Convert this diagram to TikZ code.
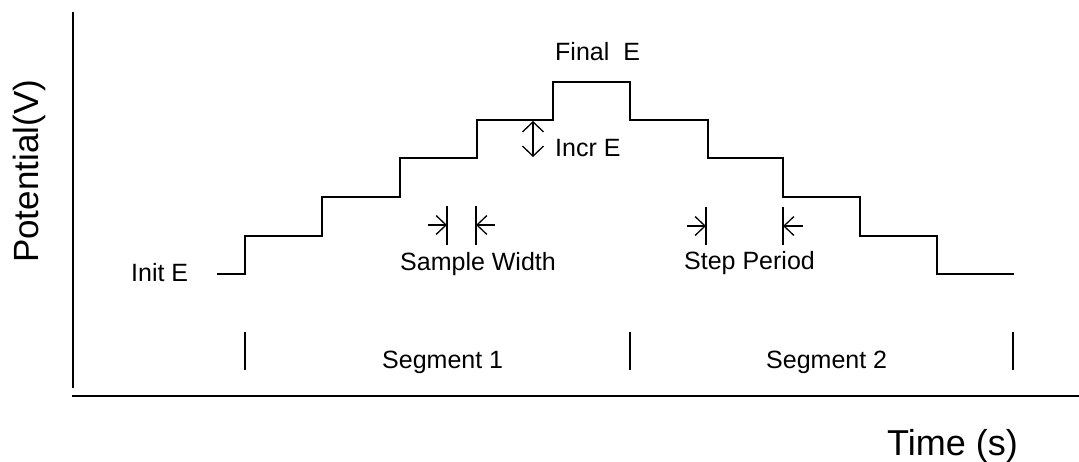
\documentclass[tikz,border=0pt]{standalone}
\usepackage{fontspec}
\setmainfont{Liberation Sans}
\usetikzlibrary{arrows.meta}
\begin{document}
\begin{tikzpicture}[x=1pt,y=-1pt,
  lbl/.style={font=\fontsize{25}{29}\selectfont, anchor=base west, inner sep=0pt},
  biglbl/.style={font=\fontsize{36}{42}\selectfont, anchor=base west, inner sep=0pt},
  axis/.style={line width=1.6pt},
  stair/.style={line width=1.7pt},
  tick/.style={line width=1.4pt},
  dim/.style={line width=1.3pt, -{Straight Barb[length=10pt,width=19pt]}},
  dbl/.style={line width=1.3pt, {Straight Barb[length=10pt,width=21pt]}-{Straight Barb[length=10pt,width=21pt]}}]
\useasboundingbox (0,0) rectangle (1079,461);
% axes
\coordinate (ytop) at (73,12);
\coordinate (ybot) at (73,388);
\coordinate (xl) at (72,396);
\coordinate (xr) at (1079,396);
\draw[axis] (ytop) -- (ybot);
\draw[axis] (xl) -- (xr);
% staircase
\draw[stair] (217,274) -- (245,274) -- (245,236) -- (322,236) -- (322,197) -- (400,197)
  -- (400,158) -- (477,158) -- (477,120) -- (553,120) -- (553,82) -- (630,82)
  -- (630,120) -- (708,120) -- (708,158) -- (783,158) -- (783,197) -- (860,197)
  -- (860,236) -- (937,236) -- (937,274) -- (1014,274);
% segment ticks
\coordinate (t1a) at (245,332); \coordinate (t1b) at (245,370);
\coordinate (t2a) at (630,332); \coordinate (t2b) at (630,370);
\coordinate (t3a) at (1013,332); \coordinate (t3b) at (1013,370);
\draw[tick] (t1a) -- (t1b);
\draw[tick] (t2a) -- (t2b);
\draw[tick] (t3a) -- (t3b);
% sample width markers
\coordinate (sw1a) at (447,206); \coordinate (sw1b) at (447,245);
\coordinate (sw2a) at (476,206); \coordinate (sw2b) at (476,245);
\draw[tick] (sw1a) -- (sw1b);
\draw[tick] (sw2a) -- (sw2b);
\coordinate (swl) at (428,225); \coordinate (swlt) at (447,225);
\coordinate (swr) at (495,225); \coordinate (swrt) at (476,225);
\draw[dim] (swl) -- (swlt);
\draw[dim] (swr) -- (swrt);
% step period markers
\coordinate (sp1a) at (706,207); \coordinate (sp1b) at (706,245);
\coordinate (sp2a) at (783,207); \coordinate (sp2b) at (783,245);
\draw[tick] (sp1a) -- (sp1b);
\draw[tick] (sp2a) -- (sp2b);
\coordinate (spl) at (687,226); \coordinate (splt) at (706,226);
\coordinate (spr) at (803,226); \coordinate (sprt) at (783,226);
\draw[dim] (spl) -- (splt);
\draw[dim] (spr) -- (sprt);
% incr E
\coordinate (ia) at (533,121); \coordinate (ib) at (533,157);
\draw[dbl] (ia) -- (ib);
% labels
\node[lbl] (finalE) at (555,60) {Final\ \ E};
\node[lbl] (incrE) at (555,156) {Incr E};
\node[lbl] (sampw) at (400,270) {Sample Width};
\node[lbl] (stepp) at (684,269) {Step Period};
\node[lbl] (initE) at (131,281) {Init E};
\node[lbl] (seg1) at (382,368) {Segment 1};
\node[lbl] (seg2) at (766,368) {Segment 2};
\node[biglbl] (time) at (887,455) {Time (s)};
\node[biglbl, font=\fontsize{35}{41}\selectfont, rotate=90] (pot) at (38,263) {Potential(V)};
\end{tikzpicture}
\end{document}
